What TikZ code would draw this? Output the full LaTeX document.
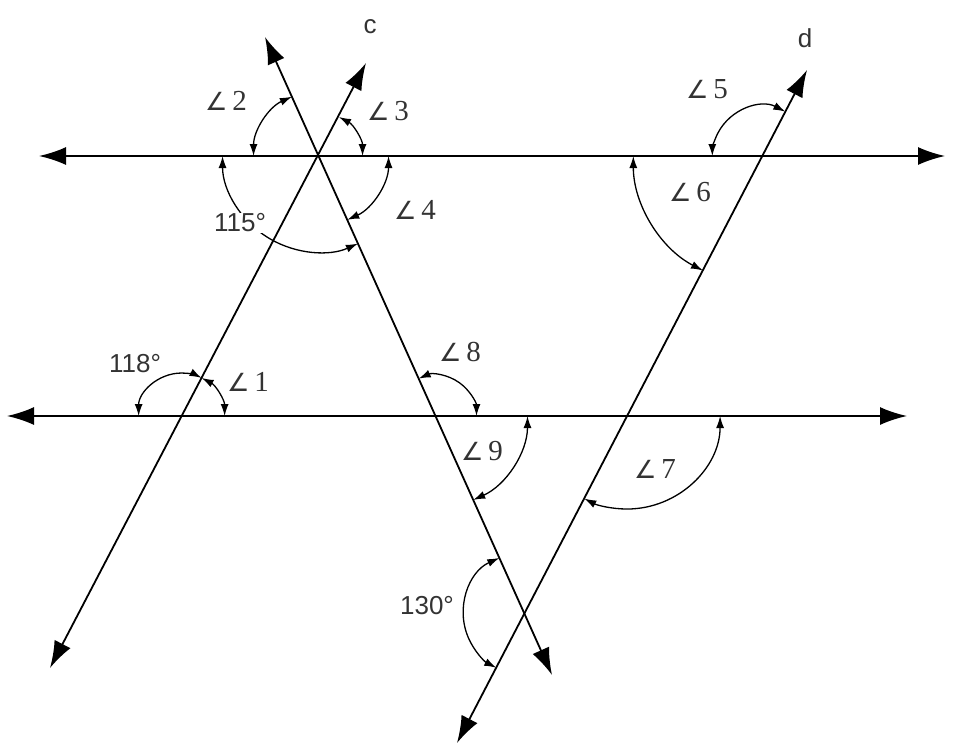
\documentclass[tikz,border=0pt]{standalone}
\usepackage{fontspec}
\setmainfont{Liberation Serif}
\newfontfamily\labsans{Liberation Sans}
\newfontfamily\angfont{DejaVu Sans}
\usetikzlibrary{arrows.meta,calc}
\newcommand\myang[1]{{\angfont\fontsize{25}{30}\selectfont ∠}\kern5pt#1}
\begin{document}
\begin{tikzpicture}[x=1pt,y=-1pt,
  mainline/.style={line width=1.8pt,
    {Latex[length=27pt,width=18pt]}-{Latex[length=27pt,width=18pt]}},
  angarc/.style={line width=1.3pt,
    {Latex[length=12pt,width=8pt]}-{Latex[length=12pt,width=8pt]}},
  serlab/.style={font=\fontsize{29}{34}\selectfont, inner sep=1pt, text=black!80},
  sanslab/.style={font=\labsans\fontsize{26}{31}\selectfont, inner sep=1pt, text=black!80}]
\useasboundingbox (0,0) rectangle (960,750);
% line end points
\coordinate (h1L) at (39,156);
\coordinate (h1R) at (945,156);
\coordinate (h2L) at (7,416);
\coordinate (h2R) at (907,416);
\coordinate (tTop) at (265,37);
\coordinate (tBot) at (552,675);
\coordinate (cTop) at (366,63);
\coordinate (cBot) at (50,668);
\coordinate (dTop) at (807,70);
\coordinate (dBot) at (457,743);
% intersections
\coordinate (P) at (intersection of tTop--tBot and h1L--h1R);
\coordinate (Q) at (intersection of tTop--tBot and h2L--h2R);
\coordinate (R) at (intersection of cTop--cBot and h2L--h2R);
\coordinate (D) at (intersection of dTop--dBot and h1L--h1R);
\coordinate (S) at (intersection of dTop--dBot and h2L--h2R);
\coordinate (X) at (intersection of tTop--tBot and dTop--dBot);
% lines
\draw[mainline] (h1L) -- (h1R);
\draw[mainline] (h2L) -- (h2R);
\draw[mainline] (tTop) -- (tBot);
\draw[mainline] (cBot) -- (cTop);
\draw[mainline] (dBot) -- (dTop);
% angle arcs
\draw[angarc] ($(P)+(180:65)$) arc[start angle=180,end angle=245.8,radius=65];
\draw[angarc] ($(P)+(-62.4:44)$) arc[start angle=-62.4,end angle=0,radius=44];
\draw[angarc] ($(P)+(0:70)$) arc[start angle=0,end angle=65.8,radius=70];
\draw[angarc] ($(P)+(180:96)$) arc[start angle=180,end angle=65.8,radius=96];
\draw[angarc] ($(D)+(-62.6:50)$) arc[start angle=-62.6,end angle=-180,radius=50];
\draw[angarc] ($(D)+(180:129)$) arc[start angle=180,end angle=117.4,radius=129];
\draw[angarc] ($(R)+(180:43)$) arc[start angle=180,end angle=297.6,radius=43];
\draw[angarc] ($(R)+(-62.4:43)$) arc[start angle=-62.4,end angle=0,radius=43];
\draw[angarc] ($(Q)+(-114.2:41)$) arc[start angle=-114.2,end angle=0,radius=41];
\draw[angarc] ($(Q)+(0:92)$) arc[start angle=0,end angle=65.8,radius=92];
\draw[angarc] ($(S)+(0:93)$) arc[start angle=0,end angle=117.4,radius=93];
\draw[angarc] ($(X)+(245.8:61)$) arc[start angle=245.8,end angle=117.4,radius=61];
% labels
\node[sanslab] (lc) at (370,27) {c};
\node[sanslab] (ld) at (805,38) {d};
\node[serlab] (l2) at (226,101) {\myang{2}};
\node[serlab] (l3) at (388,111) {\myang{3}};
\node[serlab] (l4) at (415,210) {\myang{4}};
\node[sanslab, fill=white] (l115) at (240,223) {115°};
\node[serlab] (l5) at (707,89) {\myang{5}};
\node[serlab] (l6) at (690,192) {\myang{6}};
\node[sanslab] (l118) at (135,364) {118°};
\node[serlab] (l1) at (248,382) {\myang{1}};
\node[serlab] (l8) at (460,352) {\myang{8}};
\node[serlab] (l9) at (482,451) {\myang{9}};
\node[serlab] (l7) at (655,469) {\myang{7}};
\node[sanslab] (l130) at (427,606) {130°};
\end{tikzpicture}
\end{document}
